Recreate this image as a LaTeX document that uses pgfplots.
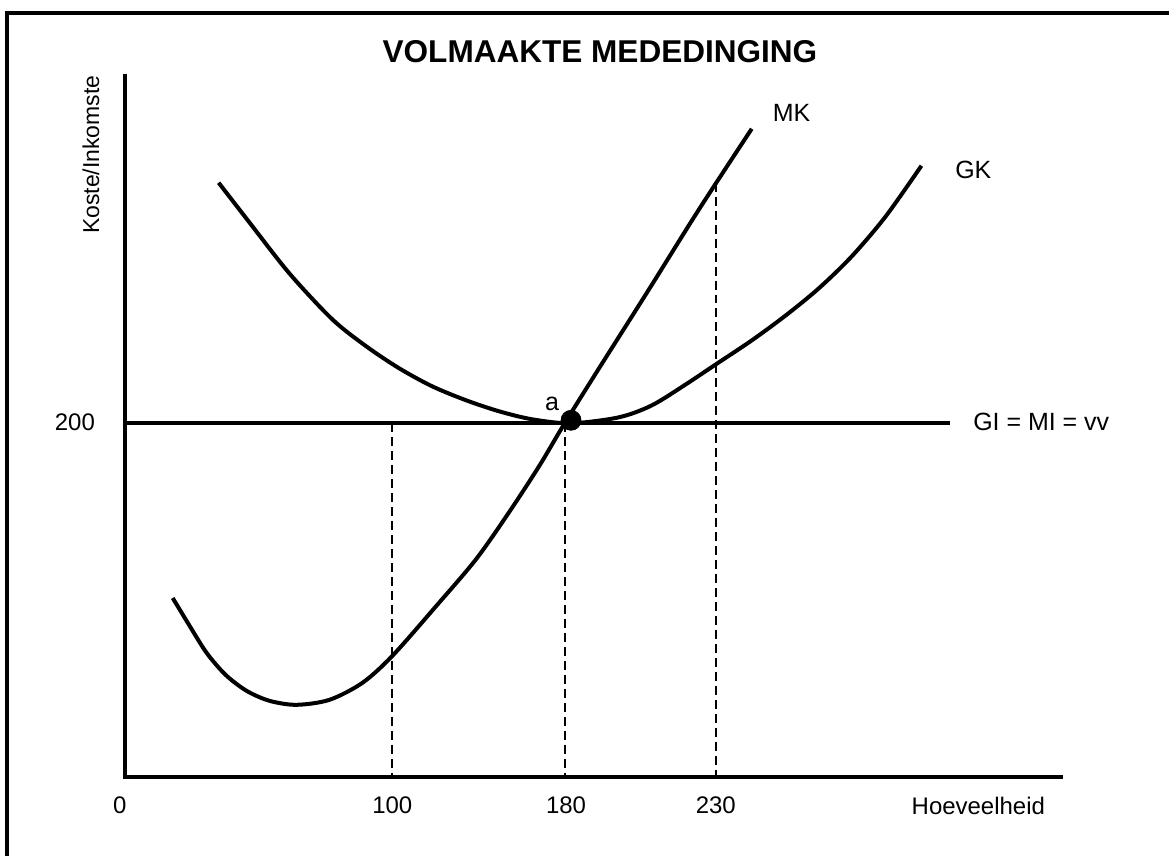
\documentclass[border=0pt]{standalone}
\usepackage{fontspec}
\setmainfont{Liberation Sans}
\usepackage{pgfplots}
\pgfplotsset{compat=1.18}
\begin{document}
\begin{tikzpicture}
\begin{axis}[
  scale only axis, width=585.5pt, height=428.5pt,
  xmin=0, xmax=1171, ymin=0, ymax=857, y dir=reverse,
  hide axis, clip=false,
]
% canvas extent
\addplot[draw=none] coordinates {(0,0) (1171,857)};
% outer frame (left and top)
\addplot[black, line width=2pt] coordinates {(7,857) (7,13) (1171,13)};
% axes
\addplot[black, line width=2pt] coordinates {(125,74) (125,778) (1065,778)};
% price line GI = MI = vv
\addplot[black, line width=2pt] coordinates {(125,424) (952,424)};
% dashed guides
\addplot[black, line width=1pt, dash pattern=on 4.5pt off 2.5pt] coordinates {(393,424) (393,778)};
\addplot[black, line width=1pt, dash pattern=on 4.5pt off 2.5pt] coordinates {(566,424) (566,778)};
\addplot[black, line width=1pt, dash pattern=on 4.5pt off 2.5pt] coordinates {(717,183) (717,778)};
% MK curve
\addplot[black, line width=2pt, smooth] coordinates {
  (173,599) (190,627) (207,654) (226,676) (247,692) (270,702) (297,706)
  (330,701) (363,684) (393,657) (437,607) (477,560) (510,513) (540,467)
  (565,425) (600,369) (650,290) (700,210) (753,129)};
% GK curve
\addplot[black, line width=2pt, smooth] coordinates {
  (219,183) (250,223) (290,274) (333,320) (367,347) (400,369) (433,387)
  (467,401) (500,412) (533,420) (572,424) (620,418) (653,406) (687,385)
  (717,365) (753,341) (787,316) (820,289) (853,257) (887,217) (923,166)};
% point a
\addplot[black, only marks, mark=*, mark size=5pt] coordinates {(572,421)};
% texts
\node at (axis cs:601,52) {\fontsize{15.8}{18}\selectfont\bfseries VOLMAAKTE MEDEDINGING};
\node[rotate=90] at (axis cs:91,155) {\fontsize{11.5}{13}\selectfont Koste/Inkomste};
\node at (axis cs:75,423) {\fontsize{12}{14}\selectfont 200};
\node at (axis cs:120,807) {\fontsize{12}{14}\selectfont 0};
\node at (axis cs:393,807) {\fontsize{12}{14}\selectfont 100};
\node at (axis cs:567,807) {\fontsize{12}{14}\selectfont 180};
\node at (axis cs:717,807) {\fontsize{12}{14}\selectfont 230};
\node at (axis cs:980,807) {\fontsize{12}{14}\selectfont Hoeveelheid};
\node at (axis cs:1043,423) {\fontsize{12.5}{14}\selectfont GI = MI = vv};
\node at (axis cs:793,113) {\fontsize{12.5}{14}\selectfont MK};
\node at (axis cs:975,170) {\fontsize{12.5}{14}\selectfont GK};
\node at (axis cs:553,405) {\fontsize{12.5}{14}\selectfont a};
\end{axis}
\end{tikzpicture}
\end{document}
